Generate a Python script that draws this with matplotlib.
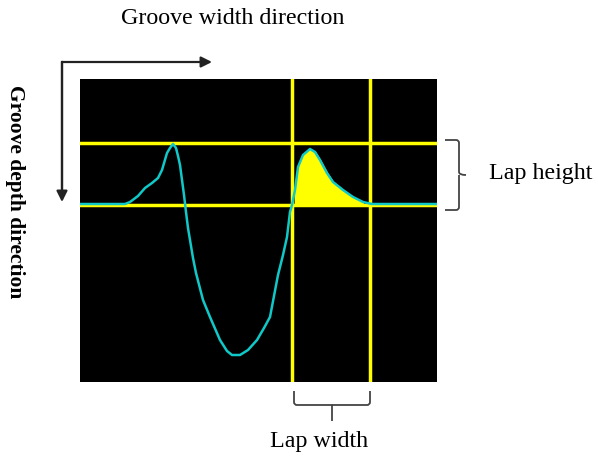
import numpy as np
import matplotlib
matplotlib.use("Agg")
import matplotlib.pyplot as plt
from matplotlib.patches import FancyArrowPatch, PathPatch
from matplotlib.path import Path

# profile (pixel coordinates of the screen shot)
profile_x = [80, 100, 125, 130, 138, 145, 152, 158, 162, 167, 170, 173, 176, 178, 180, 182,
             184, 186, 188, 190, 193, 196, 203, 210, 220, 227, 232, 240, 248, 257, 264, 270,
             278, 283, 287, 290, 292, 295, 298, 303, 310, 315, 320, 327, 333, 343, 353, 363,
             372, 400, 437]
profile_y = [204, 204, 204, 202, 196, 188, 183, 178, 170, 153, 148, 144, 148, 156, 165, 180,
             195, 212, 228, 240, 258, 273, 300, 317, 340, 351, 355, 355, 350, 340, 328, 317,
             275, 255, 237, 212, 205, 190, 167, 155, 149, 152, 160, 173, 182, 190, 197, 202,
             204, 204, 204]

h_lines = [143, 204.5]   # lap top / base line
v_lines = [292, 370]     # lap start / end

W, H = 598, 459
fig = plt.figure(figsize=(W / 100, H / 100), dpi=100)
fig.patch.set_facecolor("white")

# screen panel
ax = fig.add_axes([80 / W, (H - 382) / H, 357 / W, 303 / H])
ax.set_facecolor("black")
ax.set_xlim(80, 437)
ax.set_ylim(382, 79)
ax.set_xticks([])
ax.set_yticks([])
for s in ax.spines.values():
    s.set_visible(False)

px = np.array(profile_x, float)
py = np.array(profile_y, float)
mask = (px >= v_lines[0]) & (px <= v_lines[1])
ax.fill_between(px, py, h_lines[1], where=mask & (py <= h_lines[1]), color="#ffff00", zorder=2)
for y in h_lines:
    ax.axhline(y, color="#ffff00", lw=2.5, zorder=3)
for x in v_lines:
    ax.axvline(x, color="#ffff00", lw=2.5, zorder=3)
ax.plot(px, py, color="#10c8c8", lw=1.8, zorder=4)

# overlay for annotations, in pixel units
ov = fig.add_axes([0, 0, 1, 1], zorder=-1)
ov.set_xlim(0, W)
ov.set_ylim(H, 0)
ov.axis("off")

serif = "Liberation Serif"
fs = 17.3
ov.text(233, 19, "Groove width direction", fontsize=fs, family=serif,
        ha="center", va="center")
ov.text(15, 192, "Groove depth direction", fontsize=15.5, family=serif,
        weight="bold", rotation=-90, ha="center", va="center")
ov.text(489, 173, "Lap height", fontsize=fs, family=serif, ha="left", va="center")
ov.text(319, 441, "Lap width", fontsize=fs, family=serif, ha="center", va="center")

ov.plot([62, 62], [62, 190], color="#222222", lw=1.6)
ov.add_patch(FancyArrowPatch((62, 62), (212, 62), arrowstyle="-|>", mutation_scale=16,
                             color="#222222", lw=1.6, shrinkA=0, shrinkB=0))
ov.add_patch(FancyArrowPatch((62, 62), (62, 202), arrowstyle="-|>", mutation_scale=16,
                             color="#222222", lw=1.6, shrinkA=0, shrinkB=0))


# braces
def vbrace(x0, y0, y1, w=14, tip=7):
    xm = x0 + w
    ym = (y0 + y1) / 2
    r = 3
    verts = [(x0, y0), (xm - r, y0), (xm, y0), (xm, y0 + r),
             (xm, ym - r), (xm, ym), (xm + tip, ym),
             (xm, ym), (xm, ym + r),
             (xm, y1 - r), (xm, y1), (xm - r, y1), (x0, y1)]
    codes = [Path.MOVETO, Path.LINETO, Path.CURVE3, Path.CURVE3,
             Path.LINETO, Path.CURVE3, Path.CURVE3,
             Path.MOVETO, Path.LINETO,
             Path.LINETO, Path.CURVE3, Path.CURVE3, Path.LINETO]
    return PathPatch(Path(verts, codes), fill=False, ec="#444444", lw=1.3)


def hbrace(x0, x1, y0, h=14, tip=16):
    ym = y0 + h
    xm = (x0 + x1) / 2
    r = 3
    verts = [(x0, y0), (x0, ym - r), (x0, ym), (x0 + r, ym),
             (xm, ym), (xm, ym + tip),
             (x1, y0), (x1, ym - r), (x1, ym), (x1 - r, ym), (xm, ym)]
    codes = [Path.MOVETO, Path.LINETO, Path.CURVE3, Path.CURVE3,
             Path.LINETO, Path.LINETO,
             Path.MOVETO, Path.LINETO, Path.CURVE3, Path.CURVE3, Path.LINETO]
    return PathPatch(Path(verts, codes), fill=False, ec="#444444", lw=1.3)


ov.add_patch(vbrace(445, 140, 210))
ov.add_patch(hbrace(294, 370, 391))

fig.savefig("out.png", dpi=100, facecolor="white")
